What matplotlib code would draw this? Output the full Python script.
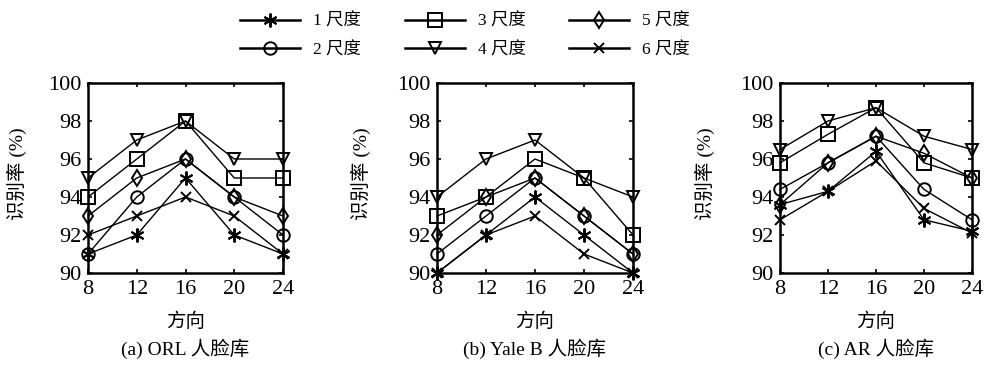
import matplotlib.pyplot as plt

plt.rcParams['font.family'] = ['Liberation Serif', 'Noto Sans CJK SC']
plt.rcParams['axes.unicode_minus'] = False

# Data
directions = [8, 12, 16, 20, 24]
scale_labels = ['1 尺度', '2 尺度', '3 尺度', '4 尺度', '5 尺度', '6 尺度']
markers = [(6, 2, 0), 'o', 's', 'v', 'd', 'x']
marker_sizes = [10, 9, 10, 9, 8, 7]

orl = [
    [91, 92, 95, 92, 91],
    [91, 94, 96, 94, 92],
    [94, 96, 98, 95, 95],
    [95, 97, 98, 96, 96],
    [93, 95, 96, 94, 93],
    [92, 93, 94, 93, 91],
]
yale = [
    [90, 92, 94, 92, 90],
    [91, 93, 95, 93, 91],
    [93, 94, 96, 95, 92],
    [94, 96, 97, 95, 94],
    [92, 94, 95, 93, 91],
    [90, 92, 93, 91, 90],
]
ar = [
    [93.6, 94.3, 96.4, 92.8, 92.2],
    [94.4, 95.8, 97.2, 94.4, 92.8],
    [95.8, 97.3, 98.7, 95.8, 95.0],
    [96.5, 98.0, 98.7, 97.2, 96.5],
    [93.6, 95.8, 97.2, 96.3, 95.0],
    [92.8, 94.3, 95.9, 93.4, 92.1],
]
datasets = [orl, yale, ar]
titles = ['(a) ORL 人脸库', '(b) Yale B 人脸库', '(c) AR 人脸库']

W, H = 984, 365
fig = plt.figure(figsize=(W / 100, H / 100), dpi=100)
lefts = [88, 437, 780]
widths = [195, 196, 192]
ylabel_x = [17, 361, 705]
handles = []
for k, (data, title) in enumerate(zip(datasets, titles)):
    ax = fig.add_axes([lefts[k] / W, 1 - 273 / H, widths[k] / W, 190 / H])
    for i, series in enumerate(data):
        h, = ax.plot(directions, series, color='black', lw=1.0,
                     marker=markers[i], ms=marker_sizes[i],
                     mfc='none', mec='black', mew=1.4, clip_on=False)
        if k == 0:
            handles.append(h)
    ax.set_xlim(8, 24)
    ax.set_ylim(90, 100)
    ax.set_xticks(directions)
    ax.set_yticks(range(90, 101, 2))
    ax.tick_params(direction='in', top=True, right=True, labelsize=16,
                   length=3, width=1.2, pad=5)
    for sp in ax.spines.values():
        sp.set_linewidth(1.8)
    cx = (lefts[k] + widths[k] / 2) / W
    fig.text(ylabel_x[k] / W, 1 - 174 / H, '识别率 (%)', rotation=90,
             ha='center', va='center', fontsize=14)
    fig.text(cx, 1 - 322 / H, '方向', ha='center', va='center', fontsize=14)
    fig.text(cx, 1 - 349 / H, title, ha='center', va='center', fontsize=14)

leg = fig.legend(handles, scale_labels, ncol=3, loc='center',
                 bbox_to_anchor=(465 / W, 1 - 36 / H), frameon=False,
                 fontsize=12.5, handlelength=3.45, columnspacing=2.5,
                 labelspacing=0.7, handletextpad=0.75, borderpad=0)
for line in leg.get_lines():
    line.set_linewidth(1.8)

fig.savefig('out.png', dpi=100)
